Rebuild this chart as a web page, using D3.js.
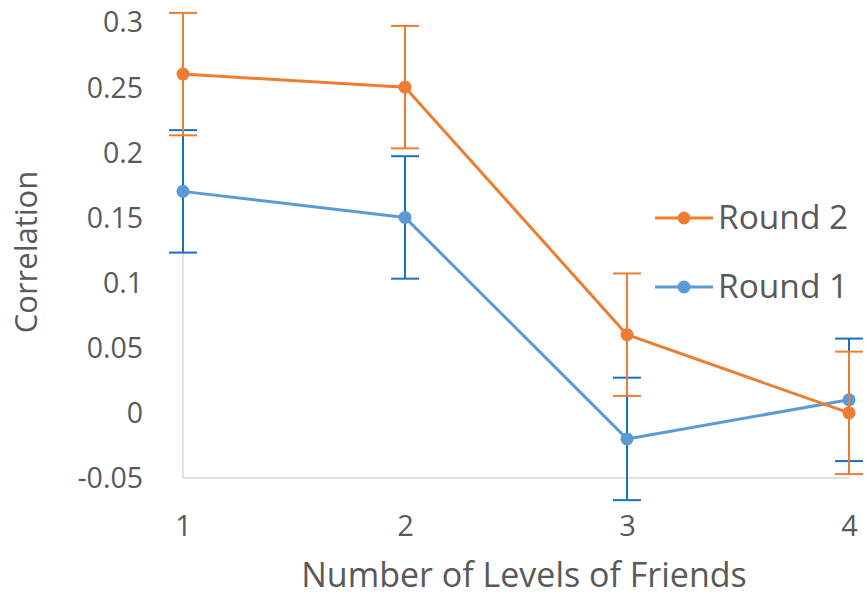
<!DOCTYPE html>
<html><head><meta charset="utf-8">
<script src="https://cdn.jsdelivr.net/npm/d3@7"></script>
<style>body{margin:0;background:#fff;}svg{display:block;}</style>
</head><body>
<svg id="chart" width="867" height="597"></svg>
<script>
const categories = ["1","2","3","4"];
const round1 = [0.17, 0.15, -0.02, 0.01];
const round1Err = [0.047, 0.047, 0.047, 0.047];
const round2 = [0.26, 0.25, 0.06, 0.0];
const round2Err = [0.047, 0.047, 0.047, 0.047];
const yTicks = [-0.05, 0, 0.05, 0.1, 0.15, 0.2, 0.25, 0.3];
const seriesNames = ["Round 1", "Round 2"];

const svg = d3.select("#chart");
const x = d3.scalePoint().domain(categories).range([183, 849]);
const y = d3.scaleLinear().domain([-0.05, 0.3]).range([478, 22]);
const textColor = "#595959";
const font = "'Open Sans', 'Noto Sans', sans-serif";

// axis lines
svg.append("line").attr("x1", x("1")).attr("x2", x("1")).attr("y1", y(0.3)).attr("y2", y(-0.05))
  .attr("stroke", "#d9d9d9").attr("stroke-width", 1.5);
svg.append("line").attr("x1", x("1")).attr("x2", x("4")).attr("y1", y(-0.05)).attr("y2", y(-0.05))
  .attr("stroke", "#d9d9d9").attr("stroke-width", 1.5);

// y tick labels
const yAxis = d3.axisLeft(y).tickValues(yTicks).tickSize(0).tickPadding(0)
  .tickFormat(d => String(Math.round(d*100)/100));
const gy = svg.append("g").attr("transform", "translate(143,0)").call(yAxis);
gy.select(".domain").remove();
gy.selectAll("text").attr("fill", textColor).attr("font-size", 28.5).attr("font-family", font).attr("dy", "0.35em");

// x tick labels
const xAxis = d3.axisBottom(x).tickSize(0).tickPadding(0);
const gx = svg.append("g").attr("transform", "translate(0,515)").call(xAxis);
gx.select(".domain").remove();
gx.selectAll("text").attr("fill", textColor).attr("font-size", 29).attr("font-family", font).attr("dy", "0.71em");

// axis titles
svg.append("text").attr("x", 524).attr("y", 587).attr("text-anchor", "middle")
  .attr("fill", textColor).attr("font-size", 34).attr("font-family", font).text("Number of Levels of Friends");
svg.append("text").attr("transform", "translate(37,252) rotate(-90)").attr("text-anchor", "middle")
  .attr("fill", textColor).attr("font-size", 31).attr("font-family", font).text("Correlation");

const series = [
  {name: "Round 1", values: round1, err: round1Err, color: "#5b9bd5", errColor: "#1a6fc0"},
  {name: "Round 2", values: round2, err: round2Err, color: "#ed7d31", errColor: "#ed7d31"}
];

const line = d3.line().x((d, i) => x(categories[i])).y(d => y(d));

series.forEach(s => {
  const g = svg.append("g");
  g.append("path").datum(s.values).attr("d", line).attr("fill", "none")
    .attr("stroke", s.color).attr("stroke-width", 3).attr("stroke-linejoin", "round");
  const eb = g.selectAll(".eb").data(s.values).enter().append("g");
  eb.append("line").attr("x1", (d, i) => x(categories[i])).attr("x2", (d, i) => x(categories[i]))
    .attr("y1", (d, i) => y(d + s.err[i])).attr("y2", (d, i) => y(d - s.err[i]))
    .attr("stroke", s.errColor).attr("stroke-width", 2);
  [1, -1].forEach(sign => {
    eb.append("line").attr("x1", (d, i) => x(categories[i]) - 14).attr("x2", (d, i) => x(categories[i]) + 14)
      .attr("y1", (d, i) => y(d + sign * s.err[i])).attr("y2", (d, i) => y(d + sign * s.err[i]))
      .attr("stroke", s.errColor).attr("stroke-width", 2);
  });
  g.selectAll(".pt").data(s.values).enter().append("circle")
    .attr("cx", (d, i) => x(categories[i])).attr("cy", d => y(d)).attr("r", 6.5).attr("fill", s.color);
});

// legend
const legendItems = [series[1], series[0]];
legendItems.forEach((s, k) => {
  const ly = 218 + k * 69;
  svg.append("line").attr("x1", 655).attr("x2", 713).attr("y1", ly).attr("y2", ly)
    .attr("stroke", s.color).attr("stroke-width", 3);
  svg.append("circle").attr("cx", 684).attr("cy", ly).attr("r", 6.5).attr("fill", s.color);
  svg.append("text").attr("x", 718).attr("y", ly + 11).attr("fill", textColor)
    .attr("font-size", 33.5).attr("font-family", font).text(s.name);
});
</script>
</body></html>
